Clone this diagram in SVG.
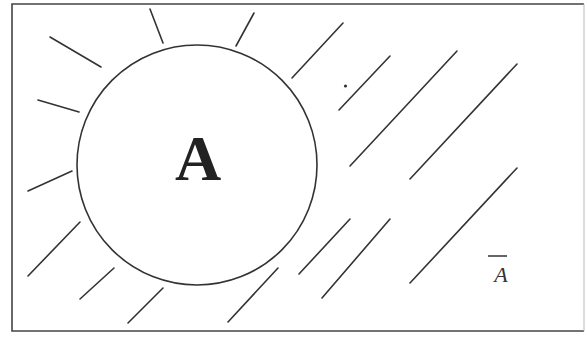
<svg xmlns="http://www.w3.org/2000/svg" width="587" height="340" viewBox="0 0 587 340">
<style>
.hatch line{stroke:#333;stroke-width:1.6;stroke-linecap:round}
.frame{fill:none;stroke:#444;stroke-width:1.6}
.circ{fill:#fff;stroke:#333;stroke-width:1.6}
</style>
<rect width="587" height="340" fill="#fff"/>
<path class="frame" d="M584 4 H12 V331 H584"/>
<line x1="584" y1="4" x2="584" y2="331" stroke="#bbb" stroke-width="1"/>
<g id="hatch" class="hatch">
<line x1="50" y1="37" x2="101" y2="67"/>
<line x1="38" y1="100" x2="79" y2="112"/>
<line x1="150" y1="9" x2="163" y2="43"/>
<line x1="254" y1="13" x2="236" y2="46"/>
<line x1="292" y1="78" x2="343" y2="23"/>
<line x1="339" y1="110" x2="390" y2="56"/>
<line x1="350" y1="166" x2="457" y2="51"/>
<line x1="410" y1="179" x2="517" y2="64"/>
<line x1="410" y1="283" x2="517" y2="168"/>
<line x1="299" y1="274" x2="350" y2="219"/>
<line x1="322" y1="298" x2="390" y2="219"/>
<line x1="28" y1="191" x2="72" y2="171"/>
<line x1="28" y1="276" x2="80" y2="222"/>
<line x1="80" y1="299" x2="114" y2="268"/>
<line x1="128" y1="323" x2="163" y2="288"/>
<line x1="228" y1="322" x2="278" y2="268"/>
</g>
<circle cx="345.5" cy="86" r="1.6" fill="#333"/>
<g id="A">
<circle class="circ" cx="197" cy="165" r="120"/>
<text x="198" y="180" text-anchor="middle" font-family="Liberation Serif, serif" font-weight="bold" font-size="64" fill="#222">A</text>
</g>
<g id="notA">
<line x1="488" y1="256" x2="507" y2="256" stroke="#333" stroke-width="1.5"/>
<text x="501" y="282" text-anchor="middle" font-family="Liberation Serif, serif" font-style="italic" font-size="22" fill="#333">A</text>
</g>
</svg>
